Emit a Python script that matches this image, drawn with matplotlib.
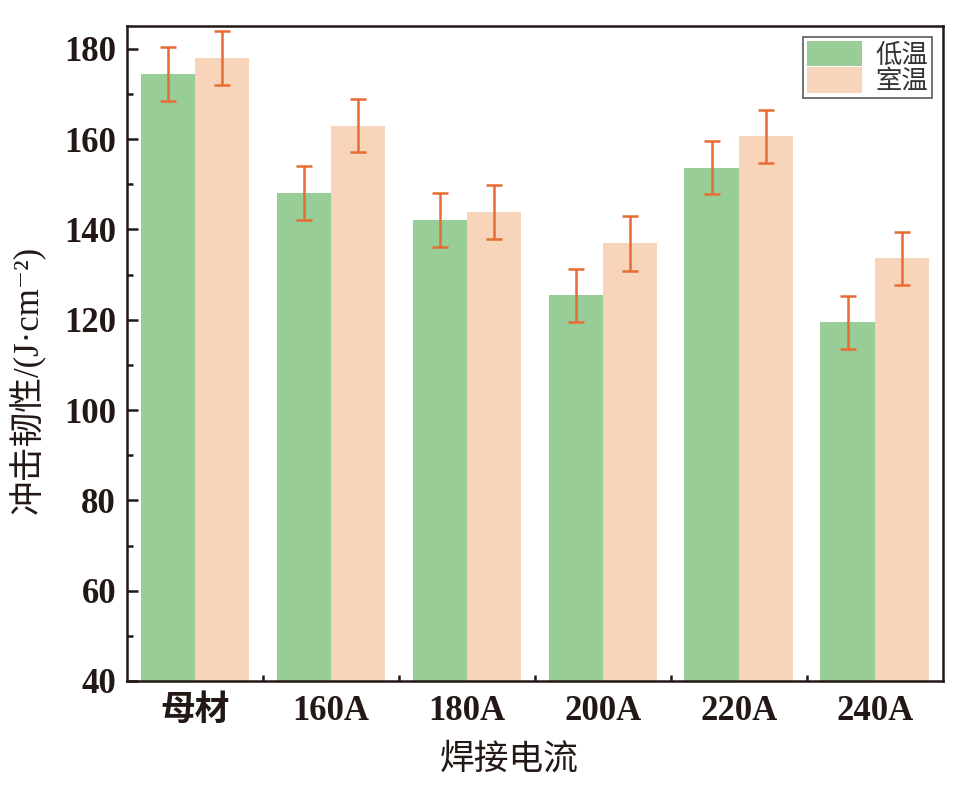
import matplotlib
matplotlib.use("Agg")
import matplotlib.pyplot as plt
import numpy as np
from matplotlib.ticker import MultipleLocator, FixedLocator

categories = ["母材", "160A", "180A", "200A", "220A", "240A"]
low_temp = [174.5, 148.0, 142.0, 125.4, 153.7, 119.4]
low_err = [6.0, 6.0, 6.0, 5.9, 5.9, 5.9]
room_temp = [178.0, 163.0, 143.8, 136.9, 160.6, 133.6]
room_err = [6.0, 5.8, 6.0, 6.0, 5.9, 5.9]
series_names = ["低温", "室温"]

fam = ['Liberation Serif', 'Noto Sans CJK SC', 'DejaVu Serif', 'DejaVu Sans']
plt.rcParams['font.family'] = fam

text_color = '#231815'
green = '#99CD98'
orange = '#F8D5BA'
err_color = '#E86B33'

fig = plt.figure(figsize=(9.63, 7.87), dpi=100)
ax = fig.add_axes([0.132, 0.1347, 0.847, 0.832])

x = np.arange(len(categories))
w = 0.4
ax.bar(x - w/2, low_temp, w, color=green, label=series_names[0], zorder=2)
ax.bar(x + w/2, room_temp, w, color=orange, label=series_names[1], zorder=2)
ax.errorbar(x - w/2, low_temp, yerr=low_err, fmt='none', ecolor=err_color,
            elinewidth=1.8, capsize=5.5, capthick=1.8, zorder=3)
ax.errorbar(x + w/2, room_temp, yerr=room_err, fmt='none', ecolor=err_color,
            elinewidth=1.8, capsize=5.5, capthick=1.8, zorder=3)

ax.set_xlim(-0.5, len(categories) - 0.5)
ax.set_ylim(40, 185)
ax.yaxis.set_major_locator(MultipleLocator(20))
ax.yaxis.set_minor_locator(MultipleLocator(10))
ax.set_xticks(x)
ax.xaxis.set_minor_locator(FixedLocator(x[:-1] + 0.5))
ax.set_xticklabels(categories)

for s in ax.spines.values():
    s.set_linewidth(1.8)
    s.set_color(text_color)

ax.tick_params(axis='both', which='major', direction='in', length=8, width=1.8,
               colors=text_color, labelsize=25)
ax.tick_params(axis='x', which='major', pad=10)
ax.tick_params(axis='y', which='major', pad=8)
ax.tick_params(axis='both', which='minor', direction='in', length=4.5, width=1.8,
               colors=text_color)
for lab in ax.get_xticklabels() + ax.get_yticklabels():
    lab.set_fontweight('bold')
    lab.set_color(text_color)

ax.set_xlabel('焊接电流', fontsize=25, color=text_color)
ax.xaxis.set_label_coords(0.468, -0.095)
ax.set_ylabel('冲击韧性/(J·cm⁻²)', fontsize=25, color=text_color)
ax.yaxis.set_label_coords(-0.1, 0.46)

leg = ax.legend(loc='upper right', fontsize=19, frameon=True, fancybox=False,
                handlelength=2.1, handleheight=1.1, borderpad=0.15,
                labelspacing=0.0, handletextpad=0.5, borderaxespad=0.4)
leg.get_frame().set_edgecolor('#333333')
leg.get_frame().set_linewidth(1.2)
for t in leg.get_texts():
    t.set_color('#333333')

fig.savefig('out.png', dpi=100)
